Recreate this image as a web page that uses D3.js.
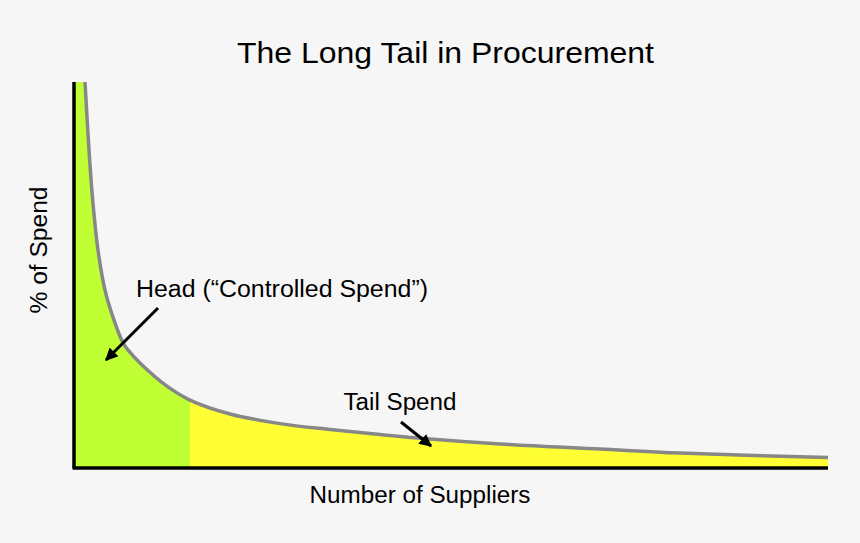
<!DOCTYPE html>
<html><head><meta charset="utf-8">
<script src="https://cdnjs.cloudflare.com/ajax/libs/d3/7.8.5/d3.min.js"></script>
<style>html,body{margin:0;padding:0;background:#f6f6f6;}svg{display:block;}</style>
</head><body>
<svg id="chart" width="860" height="543"></svg>
<script>
// Data
const suppliers = [1.46, 1.99, 2.48, 3.18, 4.11, 5.17, 6.5, 7.16, 8.75, 12.33, 15.38, 20.69, 27.32, 33.95, 40.58, 47.21, 56.5, 69.76, 80.37, 100];
const spend     = [100, 82.4, 69.4, 56.5, 46.1, 39.1, 32.4, 30.6, 27.2, 21.2, 17.6, 14.0, 11.5, 9.97, 8.68, 7.51, 6.22, 4.92, 3.89, 2.72];
const headCutoff = 15.38;
const titleText = "The Long Tail in Procurement";
const xLabel = "Number of Suppliers";
const yLabel = "% of Spend";
const headLabel = "Head (\u201CControlled Spend\u201D)";
const tailLabel = "Tail Spend";

(function () {
const svg = d3.select("#chart");
const W = 860, H = 543;
const pLeft = 74, pRight = 828, pTop = 82, pBottom = 468;
const x = d3.scaleLinear().domain([0, 100]).range([pLeft, pRight]);
const y = d3.scaleLinear().domain([0, 100]).range([pBottom, pTop]);
const data = suppliers.map((s, i) => ({s, v: spend[i]}));

svg.append("rect").attr("width", W).attr("height", H).attr("fill", "#f6f6f6");

const defs = svg.append("defs");
defs.append("clipPath").attr("id", "clipHead").append("rect")
  .attr("x", pLeft).attr("y", pTop).attr("width", x(headCutoff) - pLeft).attr("height", pBottom - pTop);
defs.append("clipPath").attr("id", "clipTail").append("rect")
  .attr("x", x(headCutoff)).attr("y", pTop).attr("width", pRight - x(headCutoff)).attr("height", pBottom - pTop);
defs.append("marker").attr("id", "arrow").attr("viewBox", "0 0 10 10")
  .attr("refX", 9).attr("refY", 5).attr("markerWidth", 4.2).attr("markerHeight", 4.2)
  .attr("orient", "auto").attr("markerUnits", "strokeWidth")
  .append("path").attr("d", "M0,0 L10,5 L0,10 Z").attr("fill", "#000");

const curve = d3.curveCatmullRom.alpha(0.5);
const area = d3.area().x(d => x(d.s)).y0(y(0)).y1(d => y(d.v)).curve(curve);
const line = d3.line().x(d => x(d.s)).y(d => y(d.v)).curve(curve);

svg.append("path").datum(data).attr("d", area).attr("fill", "#c0ff33").attr("clip-path", "url(#clipHead)");
svg.append("path").datum(data).attr("d", area).attr("fill", "#ffff33").attr("clip-path", "url(#clipTail)");
// fill the thin sliver between the axis and the curve start
svg.append("rect").attr("x", pLeft).attr("y", pTop).attr("width", x(suppliers[0]) - pLeft).attr("height", pBottom - pTop)
  .attr("fill", "#c0ff33");
svg.append("path").datum(data).attr("d", line).attr("fill", "none")
  .attr("stroke", "#878787").attr("stroke-width", 3.5);

// axes (plain lines, no ticks)
const xAxis = d3.axisBottom(x).tickValues([]).tickSizeOuter(0);
const yAxis = d3.axisLeft(y).tickValues([]).tickSizeOuter(0);
svg.append("g").attr("transform", `translate(0,${pBottom})`).call(xAxis)
  .select(".domain").attr("stroke", "#000").attr("stroke-width", 3.5).attr("d", `M${pLeft - 1.5},0H${pRight}`);
svg.append("g").attr("transform", `translate(${pLeft},0)`).call(yAxis)
  .select(".domain").attr("stroke", "#000").attr("stroke-width", 3.5).attr("d", `M0,${pTop}V${pBottom}`);

const font = "Liberation Sans, Arial, sans-serif";
function label(t, fs, len) {
  return svg.append("text").attr("font-family", font).attr("font-size", fs).attr("fill", "#000")
    .attr("textLength", len).attr("lengthAdjust", "spacingAndGlyphs").text(t);
}
label(titleText, 30, 417).attr("x", 237).attr("y", 63);
label(xLabel, 23, 221).attr("x", 309.5).attr("y", 503);
label(yLabel, 23, 127).attr("transform", "translate(47,313.5) rotate(-90)");
label(headLabel, 23, 292).attr("x", 136).attr("y", 296.5);
label(tailLabel, 23, 113).attr("x", 343.5).attr("y", 410);

// annotation arrows
svg.append("line").attr("x1", 158).attr("y1", 308).attr("x2", 106).attr("y2", 360)
  .attr("stroke", "#000").attr("stroke-width", 3).attr("marker-end", "url(#arrow)");
svg.append("line").attr("x1", 401).attr("y1", 422).attr("x2", 431).attr("y2", 446)
  .attr("stroke", "#000").attr("stroke-width", 3).attr("marker-end", "url(#arrow)");
})();
</script>
</body></html>
